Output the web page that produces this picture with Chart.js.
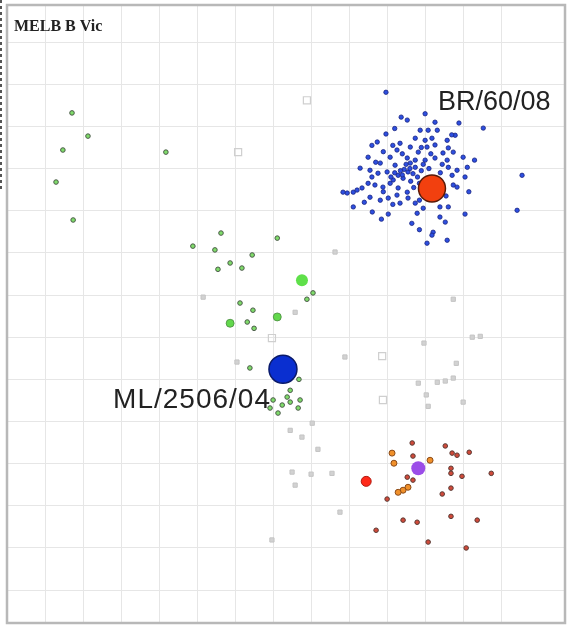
<!DOCTYPE html>
<html>
<head>
<meta charset="utf-8">
<title>MELB B Vic</title>
<script src="https://cdn.jsdelivr.net/npm/chart.js@4"></script>
<style>
  html, body { margin: 0; padding: 0; background: #fff; }
  canvas { display: block; }
</style>
</head>
<body>
<canvas id="mapChart" width="568" height="628"></canvas>
<script>
// antigenic map, one grid square = one antigenic unit
const mapTitle = 'MELB B Vic';
const xRange = [0, 14.68];
const yRange = [-0.88, 13.78];

// reference strains
const refNames = ['BR/60/08', 'ML/2506/04'];
const refBR = [{x: 11.18, y: 3.47}];
const refML = [{x: 7.26, y: 7.76}];

// blue strains (around BR/60/08)
const blueStrains = [
  {x: 9.97, y: 1.19}, {x: 10.37, y: 1.78}, {x: 10.53, y: 1.85}, {x: 11.26, y: 1.90},
  {x: 11.89, y: 1.92}, {x: 12.53, y: 2.04}, {x: 10.87, y: 2.09}, {x: 11.08, y: 2.09},
  {x: 11.32, y: 2.09}, {x: 9.97, y: 2.18}, {x: 10.74, y: 2.28}, {x: 11.00, y: 2.33},
  {x: 11.18, y: 2.28}, {x: 11.58, y: 2.33}, {x: 11.79, y: 2.21}, {x: 9.74, y: 2.37},
  {x: 10.34, y: 2.40}, {x: 10.61, y: 2.49}, {x: 11.05, y: 2.49}, {x: 11.26, y: 2.44},
  {x: 11.61, y: 2.51}, {x: 10.26, y: 2.56}, {x: 10.82, y: 2.61}, {x: 11.47, y: 2.63},
  {x: 11.74, y: 2.61}, {x: 10.08, y: 2.73}, {x: 10.53, y: 2.75}, {x: 10.74, y: 2.80},
  {x: 11.00, y: 2.80}, {x: 11.26, y: 2.75}, {x: 11.58, y: 2.80}, {x: 12.00, y: 2.73},
  {x: 9.50, y: 2.73}, {x: 9.82, y: 2.87}, {x: 10.21, y: 2.92}, {x: 10.61, y: 2.87},
  {x: 10.74, y: 2.97}, {x: 11.61, y: 2.97}, {x: 11.84, y: 3.04}, {x: 12.11, y: 2.97},
  {x: 9.29, y: 2.99}, {x: 9.55, y: 3.04}, {x: 9.76, y: 3.11}, {x: 10.00, y: 3.08},
  {x: 10.29, y: 3.16}, {x: 10.42, y: 3.23}, {x: 10.16, y: 3.27}, {x: 11.71, y: 3.16},
  {x: 12.05, y: 3.20}, {x: 13.55, y: 3.16}, {x: 8.95, y: 3.58}, {x: 9.11, y: 3.56},
  {x: 9.21, y: 3.51}, {x: 9.34, y: 3.46}, {x: 9.50, y: 3.35}, {x: 9.68, y: 3.39},
  {x: 9.89, y: 3.44}, {x: 10.08, y: 3.35}, {x: 10.29, y: 3.46}, {x: 10.53, y: 3.56},
  {x: 10.26, y: 3.63}, {x: 11.74, y: 3.39}, {x: 11.84, y: 3.44}, {x: 9.55, y: 3.68},
  {x: 9.82, y: 3.75}, {x: 10.03, y: 3.70}, {x: 9.11, y: 3.91}, {x: 9.61, y: 4.03},
  {x: 10.03, y: 4.08}, {x: 10.34, y: 3.82}, {x: 10.74, y: 3.82}, {x: 10.95, y: 3.94},
  {x: 11.39, y: 3.91}, {x: 11.61, y: 3.91}, {x: 12.05, y: 4.08}, {x: 13.42, y: 3.99},
  {x: 11.39, y: 4.15}, {x: 11.53, y: 4.27}, {x: 11.21, y: 4.51}, {x: 11.18, y: 4.58},
  {x: 11.05, y: 4.77}, {x: 11.58, y: 4.70}, {x: 10.79, y: 4.06}, {x: 8.84, y: 3.56},
  {x: 10.45, y: 3.02}, {x: 10.55, y: 3.08}, {x: 10.35, y: 3.05}, {x: 10.60, y: 3.00},
  {x: 10.50, y: 2.90}, {x: 10.68, y: 3.12}, {x: 10.40, y: 3.15}, {x: 10.20, y: 3.10},
  {x: 10.10, y: 3.20}, {x: 10.62, y: 3.30}, {x: 10.80, y: 3.20}, {x: 10.90, y: 3.05},
  {x: 10.95, y: 2.90}, {x: 10.85, y: 3.35}, {x: 10.70, y: 3.45}, {x: 10.95, y: 3.50},
  {x: 11.10, y: 3.00}, {x: 11.15, y: 2.65}, {x: 10.90, y: 2.50}, {x: 10.40, y: 2.65},
  {x: 10.15, y: 2.45}, {x: 9.90, y: 2.60}, {x: 9.70, y: 2.85}, {x: 9.60, y: 3.20},
  {x: 9.90, y: 3.55}, {x: 10.15, y: 3.85}, {x: 10.55, y: 3.70}, {x: 10.85, y: 3.75},
  {x: 11.20, y: 3.70}, {x: 11.45, y: 3.55}, {x: 11.40, y: 3.10}, {x: 11.45, y: 2.90},
  {x: 11.30, y: 3.30}, {x: 11.05, y: 3.30}, {x: 11.55, y: 3.65}, {x: 10.65, y: 4.30},
  {x: 10.85, y: 4.45}, {x: 9.40, y: 3.80}, {x: 9.85, y: 4.20}, {x: 11.70, y: 2.20},
  {x: 11.00, y: 1.70}, {x: 10.20, y: 2.05}, {x: 9.60, y: 2.45}, {x: 12.30, y: 2.80},
  {x: 12.15, y: 3.55}
];

// green strains (around ML/2506/04)
const greenStrains = [
  {x: 1.71, y: 1.68}, {x: 2.13, y: 2.23}, {x: 1.47, y: 2.56}, {x: 4.18, y: 2.61},
  {x: 1.29, y: 3.32}, {x: 1.74, y: 4.22}, {x: 4.89, y: 4.84}, {x: 5.63, y: 4.53},
  {x: 5.47, y: 4.93}, {x: 7.11, y: 4.65}, {x: 6.45, y: 5.05}, {x: 5.87, y: 5.24},
  {x: 5.55, y: 5.39}, {x: 6.18, y: 5.36}, {x: 8.05, y: 5.95}, {x: 7.89, y: 6.10},
  {x: 6.13, y: 6.19}, {x: 6.47, y: 6.36}, {x: 6.32, y: 6.64}, {x: 6.50, y: 6.79},
  {x: 6.39, y: 7.73}, {x: 7.68, y: 8.00}, {x: 7.45, y: 8.26}, {x: 7.37, y: 8.42},
  {x: 7.00, y: 8.49}, {x: 7.45, y: 8.54}, {x: 7.66, y: 8.68}, {x: 7.13, y: 8.80},
  {x: 6.92, y: 8.68}, {x: 7.24, y: 8.61}, {x: 7.71, y: 8.49}
];
const greenLarge = [{x: 5.87, y: 6.67}, {x: 7.11, y: 6.52}];
const greenBig = [{x: 7.76, y: 5.65}];

// red / orange strains (lower right group)
const redStrains = [
  {x: 10.66, y: 9.51}, {x: 10.68, y: 9.82}, {x: 11.53, y: 9.58}, {x: 11.71, y: 9.75},
  {x: 11.84, y: 9.80}, {x: 12.16, y: 9.73}, {x: 11.68, y: 10.11}, {x: 11.68, y: 10.23},
  {x: 11.97, y: 10.30}, {x: 12.74, y: 10.23}, {x: 10.53, y: 10.32}, {x: 10.68, y: 10.39},
  {x: 11.68, y: 10.58}, {x: 11.45, y: 10.72}, {x: 10.00, y: 10.84}, {x: 10.42, y: 11.34},
  {x: 10.79, y: 11.39}, {x: 11.68, y: 11.25}, {x: 12.37, y: 11.34}, {x: 9.71, y: 11.58},
  {x: 11.08, y: 11.86}, {x: 12.08, y: 12.00}
];
const orangeStrains = [
  {x: 10.13, y: 9.75}, {x: 10.18, y: 9.99}, {x: 11.13, y: 9.92},
  {x: 10.55, y: 10.56}, {x: 10.42, y: 10.63}, {x: 10.29, y: 10.68}
];
const redBlob = [{x: 9.45, y: 10.42}];
const purpleBlob = [{x: 10.82, y: 10.11}];

// sera
const seraDots = [
  {x: 11.74, y: 6.10}, {x: 8.89, y: 7.47}, {x: 10.97, y: 7.14}, {x: 12.24, y: 7.00},
  {x: 12.45, y: 6.98}, {x: 11.82, y: 7.62}, {x: 10.82, y: 8.09}, {x: 11.32, y: 8.07},
  {x: 11.53, y: 8.04}, {x: 11.74, y: 7.97}, {x: 11.03, y: 8.37}, {x: 11.08, y: 8.64},
  {x: 12.00, y: 8.54}, {x: 7.45, y: 9.21}, {x: 7.76, y: 9.37}, {x: 8.03, y: 9.04},
  {x: 8.18, y: 9.66}, {x: 7.50, y: 10.20}, {x: 8.00, y: 10.25}, {x: 8.55, y: 10.23},
  {x: 7.58, y: 10.51}, {x: 8.76, y: 11.15}, {x: 6.97, y: 11.81}, {x: 5.16, y: 6.05},
  {x: 6.05, y: 7.59}, {x: 8.63, y: 4.98}, {x: 7.58, y: 6.41}
];
const seraSquares = [
  {x: 7.89, y: 1.38}, {x: 6.08, y: 2.61}, {x: 9.87, y: 7.45}, {x: 9.89, y: 8.49},
  {x: 6.97, y: 7.02}
];

const frameAndText = {
  id: 'frameAndText',
  beforeDatasetsDraw(chart) {
    const ctx = chart.ctx;
    const a = chart.chartArea;
    ctx.save();
    // scan edge on the far left
    ctx.strokeStyle = '#555';
    ctx.lineWidth = 2;
    ctx.setLineDash([3, 3]);
    ctx.beginPath();
    ctx.moveTo(1, 0);
    ctx.lineTo(1, 190);
    ctx.stroke();
    ctx.setLineDash([]);
    ctx.strokeStyle = '#b8b8b8';
    ctx.lineWidth = 2.5;
    ctx.strokeRect(a.left, a.top, a.right - a.left, a.bottom - a.top);
    ctx.restore();
  },
  afterDatasetsDraw(chart) {
    const ctx = chart.ctx;
    const a = chart.chartArea;
    const xs = chart.scales.x;
    const ys = chart.scales.y;
    ctx.save();
    ctx.fillStyle = '#222';
    ctx.font = 'bold 16px "Liberation Serif"';
    ctx.textBaseline = 'alphabetic';
    ctx.textAlign = 'left';
    ctx.fillText(mapTitle, a.left + 7, a.top + 26);

    ctx.font = '27px "Liberation Sans"';
    // BR/60/08 sits up and to the right of its point
    ctx.fillText(refNames[0], xs.getPixelForValue(refBR[0].x) + 6, ys.getPixelForValue(refBR[0].y) - 78);
    // ML/2506/04 sits below and to the left
    ctx.font = '28px "Liberation Sans"';
    ctx.letterSpacing = '1px';
    ctx.textAlign = 'right';
    ctx.fillText(refNames[1], xs.getPixelForValue(refML[0].x) - 12, ys.getPixelForValue(refML[0].y) + 39);
    ctx.restore();
  }
};

const ctx = document.getElementById('mapChart').getContext('2d');
new Chart(ctx, {
  type: 'scatter',
  data: {
    datasets: [
      {
        label: refNames[0],
        data: refBR,
        order: 0,
        pointRadius: 13.5,
        backgroundColor: '#f2400f',
        borderColor: '#5a1a08',
        borderWidth: 1.5
      },
      {
        label: refNames[1],
        data: refML,
        order: 0,
        pointRadius: 14,
        backgroundColor: '#0a2fd0',
        borderColor: '#0a1a6a',
        borderWidth: 1.5
      },
      {
        label: 'purple',
        data: purpleBlob,
        order: 1,
        pointRadius: 7,
        backgroundColor: '#9b4de8',
        borderWidth: 0
      },
      {
        label: 'red blob',
        data: redBlob,
        order: 1,
        pointRadius: 5,
        backgroundColor: '#ff2a1a',
        borderColor: '#b01a10',
        borderWidth: 1
      },
      {
        label: 'blue',
        data: blueStrains,
        order: 2,
        pointRadius: 2.2,
        backgroundColor: '#2d4fe0',
        borderColor: '#1a2580',
        borderWidth: 0.8
      },
      {
        label: 'green big',
        data: greenBig,
        order: 2,
        pointRadius: 6,
        backgroundColor: '#5fe04a',
        borderWidth: 0
      },
      {
        label: 'green large',
        data: greenLarge,
        order: 3,
        pointRadius: 4,
        backgroundColor: '#62d84c',
        borderColor: '#4a8a40',
        borderWidth: 0.8
      },
      {
        label: 'green',
        data: greenStrains,
        order: 3,
        pointRadius: 2.3,
        backgroundColor: '#7fdc6a',
        borderColor: '#4a5a48',
        borderWidth: 1
      },
      {
        label: 'orange',
        data: orangeStrains,
        order: 3,
        pointRadius: 3,
        backgroundColor: '#f0902a',
        borderColor: '#8a4a18',
        borderWidth: 1
      },
      {
        label: 'red',
        data: redStrains,
        order: 3,
        pointRadius: 2.3,
        backgroundColor: '#d04a3a',
        borderColor: '#5a3a34',
        borderWidth: 1
      },
      {
        label: 'sera',
        data: seraDots,
        order: 4,
        pointStyle: 'rect',
        pointRadius: 3,
        backgroundColor: '#d2d2d2',
        borderColor: '#c4c4c4',
        borderWidth: 1
      },
      {
        label: 'sera open',
        data: seraSquares,
        order: 4,
        pointStyle: 'rect',
        pointRadius: 5,
        backgroundColor: 'rgba(255,255,255,0)',
        borderColor: '#cfcfcf',
        borderWidth: 1.2
      }
    ]
  },
  options: {
    responsive: false,
    animation: false,
    events: [],
    layout: {
      autoPadding: false,
      padding: { left: 7, right: 3, top: 5, bottom: 5 }
    },
    plugins: {
      legend: { display: false },
      tooltip: { enabled: false },
      title: { display: false }
    },
    scales: {
      x: {
        type: 'linear',
        min: xRange[0],
        max: xRange[1],
        ticks: { display: false, stepSize: 1 },
        afterBuildTicks: s => { s.ticks = s.ticks.filter(t => Number.isInteger(t.value)); },
        grid: { color: '#e6e6e6', lineWidth: 1, drawTicks: false },
        border: { display: false }
      },
      y: {
        type: 'linear',
        reverse: true,
        min: yRange[0],
        max: yRange[1],
        ticks: { display: false, stepSize: 1 },
        afterBuildTicks: s => { s.ticks = s.ticks.filter(t => Number.isInteger(t.value)); },
        grid: { color: '#e6e6e6', lineWidth: 1, drawTicks: false },
        border: { display: false }
      }
    }
  },
  plugins: [frameAndText]
});
</script>
</body>
</html>
